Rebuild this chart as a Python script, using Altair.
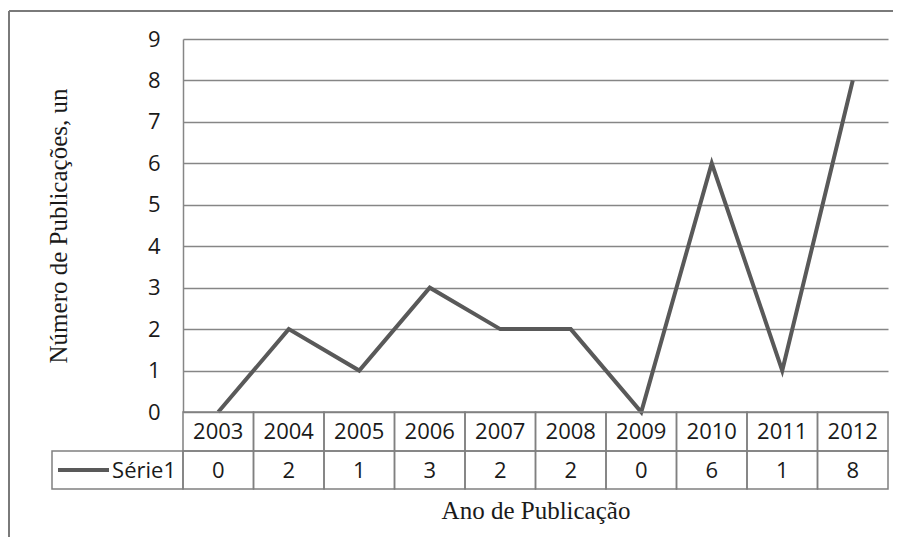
import altair as alt
import pandas as pd

# ---- data ----
anos = ["2003", "2004", "2005", "2006", "2007", "2008", "2009", "2010", "2011", "2012"]
valores = [0, 2, 1, 3, 2, 2, 0, 6, 1, 8]
serie_nome = ["Série1"]
y_ticks = [0, 1, 2, 3, 4, 5, 6, 7, 8, 9]

df = pd.DataFrame({"ano": anos, "valor": valores})
leg = pd.DataFrame({"serie": serie_nome})

W, H = 705, 373
GRID = "#868686"
BORDER = "#808080"
LINE = "#595959"
SANS = "Open Sans"
SERIF = "Liberation Serif"
TXT = "#1a1a1a"
FS = 22

x_enc = alt.X(
    "ano:O",
    sort=anos,
    scale=alt.Scale(paddingInner=0, paddingOuter=0),
    axis=alt.Axis(
        title="Ano de Publicação", labels=False, ticks=False, domain=False, grid=False,
        titleFont=SERIF, titleFontSize=25, titleFontWeight="normal", titleColor=TXT,
        titleBaseline="alphabetic", titleY=106,
    ),
)
y_enc = alt.Y(
    "valor:Q",
    scale=alt.Scale(domain=[0, 9], nice=False),
    axis=alt.Axis(
        values=y_ticks, title="Número de Publicações, un", ticks=False,
        labelPadding=23, labelFont=SANS, labelFontSize=FS, labelColor=TXT,
        domainColor=GRID, domainWidth=1.5, gridColor=GRID, gridWidth=1.3,
        titleFont=SERIF, titleFontSize=25, titleFontWeight="normal", titleColor=TXT,
        titleBaseline="alphabetic", titleX=-117, titleY=H / 2, titleAngle=270,
    ),
)

line = alt.Chart(df).mark_line(color=LINE, strokeWidth=4).encode(x=x_enc, y=y_enc)

row_year = alt.Chart(df).mark_rect(fillOpacity=0, stroke=BORDER, strokeWidth=1.5).encode(
    x=alt.X("ano:O", sort=anos), y=alt.value(H), y2=alt.value(H + 39)
)
row_val = alt.Chart(df).mark_rect(fillOpacity=0, stroke=BORDER, strokeWidth=1.5).encode(
    x=alt.X("ano:O", sort=anos), y=alt.value(H + 39), y2=alt.value(H + 77)
)
txt_year = alt.Chart(df).mark_text(font=SANS, fontSize=FS, color=TXT, baseline="middle").encode(
    x=alt.X("ano:O", sort=anos), y=alt.value(H + 20), text="ano:N"
)
txt_val = alt.Chart(df).mark_text(font=SANS, fontSize=FS, color=TXT, baseline="middle").encode(
    x=alt.X("ano:O", sort=anos), y=alt.value(H + 59), text="valor:Q"
)

leg_cell = alt.Chart(leg).mark_rect(fillOpacity=0, stroke=BORDER, strokeWidth=1.5).encode(
    x=alt.value(-131), x2=alt.value(0), y=alt.value(H + 39), y2=alt.value(H + 77)
)
leg_line = alt.Chart(leg).mark_rule(color=LINE, strokeWidth=4).encode(
    x=alt.value(-125), x2=alt.value(-74), y=alt.value(H + 58)
)
leg_txt = alt.Chart(leg).mark_text(font=SANS, fontSize=FS, color=TXT, align="right", baseline="middle").encode(
    x=alt.value(-7), y=alt.value(H + 59), text="serie:N"
)

frame_top = alt.Chart(leg).mark_rule(color="#7a7a7a", strokeWidth=2).encode(
    x=alt.value(-174), x2=alt.value(720), y=alt.value(-28)
)
frame_left = alt.Chart(leg).mark_rule(color="#7a7a7a", strokeWidth=2).encode(
    x=alt.value(-174), y=alt.value(-28), y2=alt.value(520)
)

chart = alt.layer(
    frame_top, frame_left, line, row_year, row_val, txt_year, txt_val, leg_cell, leg_line, leg_txt
).properties(
    width=W, height=H,
    autosize=alt.AutoSizeParams(type="none"),
    padding={"left": 175, "top": 31, "right": 5, "bottom": 125},
    background="white",
).configure_view(stroke=None)

chart.save("out.html", embed_options={"renderer": "svg", "actions": False})
